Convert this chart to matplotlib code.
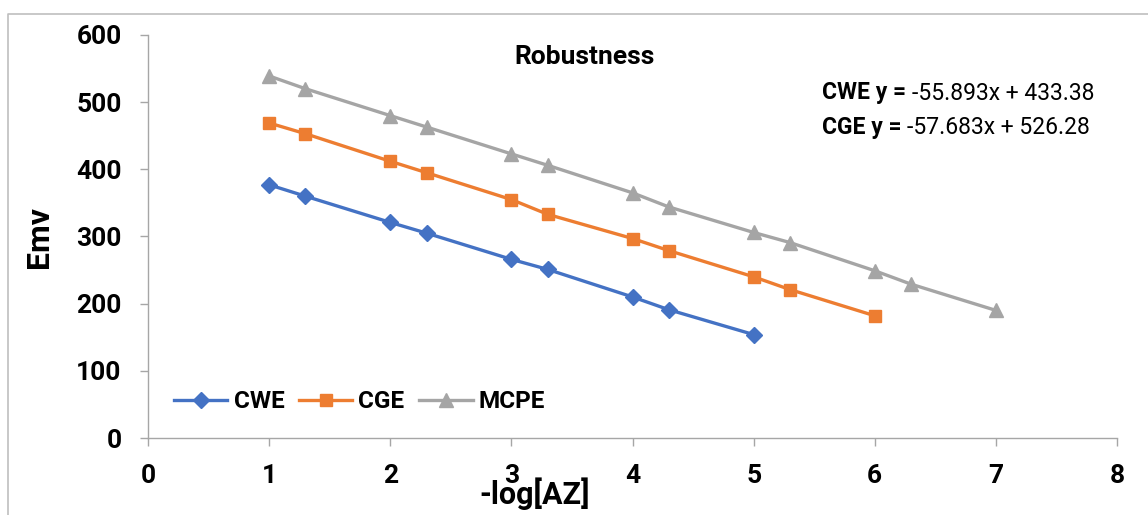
import matplotlib
matplotlib.use("Agg")
import matplotlib.pyplot as plt
from matplotlib.lines import Line2D

plt.rcParams["font.family"] = ["Roboto", "DejaVu Sans"]

# --- data ---
cwe_x = [1, 1.3, 2, 2.3, 3, 3.3, 4, 4.3, 5]
cwe_y = [377, 360, 321, 305, 266, 251, 210, 191, 154]
cge_x = [1, 1.3, 2, 2.3, 3, 3.3, 4, 4.3, 5, 5.3, 6]
cge_y = [469, 453, 412, 395, 355, 333, 297, 279, 240, 221, 182]
mcpe_x = [1, 1.3, 2, 2.3, 3, 3.3, 4, 4.3, 5, 5.3, 6, 6.3, 7]
mcpe_y = [539, 520, 480, 463, 423, 406, 365, 344, 306, 291, 249, 229, 190]

x_ticks = list(range(0, 9))
y_ticks = list(range(0, 601, 100))

W, H = 1148, 515
fig = plt.figure(figsize=(W / 100, H / 100), dpi=100)
ax = fig.add_axes([148 / W, 1 - 438 / H, (1117 - 148) / W, (438 - 35) / H])

ax.plot(cwe_x, cwe_y, color="#4472C4", lw=2.4, marker="D", ms=8, label="CWE")
ax.plot(cge_x, cge_y, color="#ED7D31", lw=2.4, marker="s", ms=9, label="CGE")
ax.plot(mcpe_x, mcpe_y, color="#A5A5A5", lw=2.4, marker="^", ms=10, label="MCPE")

ax.set_xlim(0, 8)
ax.set_ylim(0, 600)
ax.set_xticks(x_ticks)
ax.set_yticks(y_ticks)
for s in ["top", "right"]:
    ax.spines[s].set_visible(False)
for s in ["left", "bottom"]:
    ax.spines[s].set_color("#A6A6A6")
    ax.spines[s].set_linewidth(1.0)
ax.tick_params(colors="#A6A6A6", length=6, width=1.0, labelcolor="black",
               labelsize=19, pad=13)
for lab in ax.get_xticklabels() + ax.get_yticklabels():
    lab.set_fontweight("bold")

ax.set_ylabel("Emv", fontsize=23, fontweight="bold", labelpad=16)
fig.text(535 / W, 1 - 494 / H, "-log[AZ]", fontsize=22, fontweight="bold",
         ha="center", va="center")

fig.text(585 / W, 1 - 57 / H, "Robustness", fontsize=19, fontweight="bold",
         ha="center", va="center")

# trendline equations: bold prefix followed by regular text
fig.canvas.draw()
r = fig.canvas.get_renderer()
for row_y, name, eq in [(93, "CWE y = ", "-55.893x + 433.38"),
                        (127, "CGE y = ", "-57.683x + 526.28")]:
    t = fig.text(822 / W, 1 - row_y / H, name, fontsize=16.5, fontweight="bold",
                 ha="left", va="center")
    x1 = t.get_window_extent(r).x1
    fig.text(x1 / W, 1 - row_y / H, eq, fontsize=16.5, ha="left", va="center")

ax.legend(loc="center left",
          bbox_to_anchor=((174 - 148) / (1117 - 148), (438 - 402) / (438 - 35)),
          ncol=3, frameon=False, prop={"weight": "bold", "size": 17.5},
          handlelength=2.2, columnspacing=0.6, handletextpad=0.25,
          borderaxespad=0.0, borderpad=0.0)

# outer chart border (cropped on right and bottom)
fig.add_artist(Line2D([8 / W, 8 / W, 1], [0, 1 - 14 / H, 1 - 14 / H],
                      transform=fig.transFigure, color="#BFBFBF", lw=1.2))

fig.savefig("out.png", dpi=100)
